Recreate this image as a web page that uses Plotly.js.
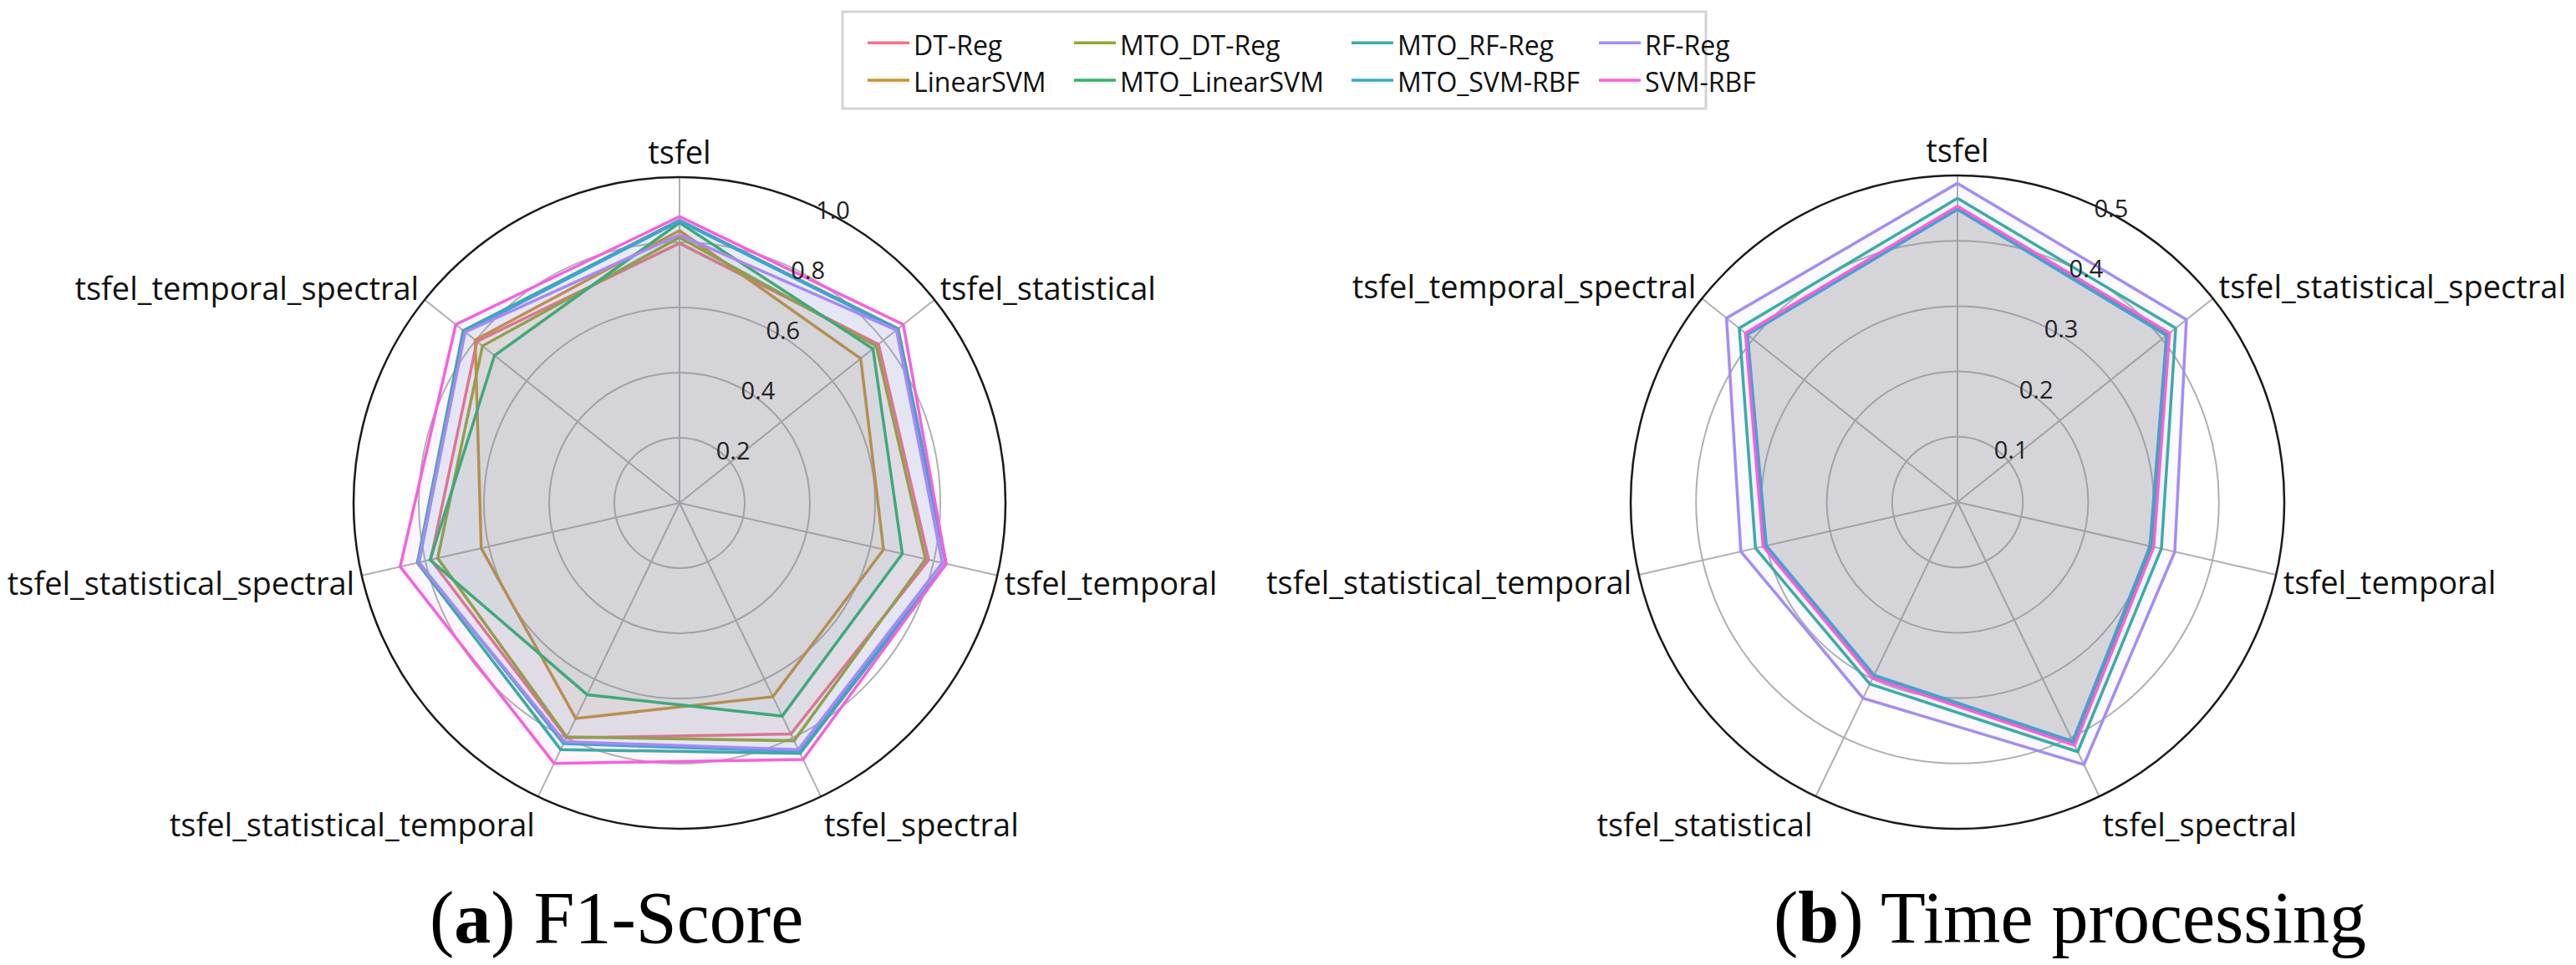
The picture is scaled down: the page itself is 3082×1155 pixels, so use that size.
<!DOCTYPE html>
<html>
<head>
<meta charset="utf-8">
<script src="https://cdn.plot.ly/plotly-3.0.1.min.js"></script>
<style>html,body{margin:0;padding:0;background:#fff;}#chart{width:3082px;height:1155px;}</style>
</head>
<body>
<div id="chart"></div>
<script>
// ---- Data ----
const models = ['DT-Reg', 'LinearSVM', 'MTO_DT-Reg', 'MTO_LinearSVM', 'MTO_RF-Reg', 'MTO_SVM-RBF', 'RF-Reg', 'SVM-RBF'];
const colors = ['#f77189', '#ce9032', '#97a431', '#32b166', '#36ada4', '#39a7d0', '#a48cf4', '#f561dd'];

const f1Categories = ['tsfel', 'tsfel_statistical', 'tsfel_temporal', 'tsfel_spectral',
  'tsfel_statistical_temporal', 'tsfel_statistical_spectral', 'tsfel_temporal_spectral'];
const f1_DT_Reg        = [0.797, 0.781, 0.784, 0.787, 0.800, 0.783, 0.795];
const f1_LinearSVM     = [0.836, 0.711, 0.642, 0.660, 0.734, 0.624, 0.802];
const f1_MTO_DT_Reg    = [0.815, 0.772, 0.774, 0.810, 0.797, 0.761, 0.773];
const f1_MTO_LinearSVM = [0.860, 0.759, 0.701, 0.726, 0.653, 0.785, 0.726];
const f1_MTO_RF_Reg    = [0.868, 0.858, 0.839, 0.853, 0.840, 0.825, 0.849];
const f1_MTO_SVM_RBF   = [0.865, 0.855, 0.838, 0.846, 0.820, 0.820, 0.843];
const f1_RF_Reg        = [0.823, 0.851, 0.827, 0.840, 0.813, 0.822, 0.841];
const f1_SVM_RBF       = [0.879, 0.878, 0.839, 0.874, 0.887, 0.879, 0.878];
const f1TickVals = [0.2, 0.4, 0.6, 0.8, 1.0];
const f1TickText = ['0.2', '0.4', '0.6', '0.8', '1.0'];

const timeCategories = ['tsfel', 'tsfel_statistical_spectral', 'tsfel_temporal', 'tsfel_spectral',
  'tsfel_statistical', 'tsfel_statistical_temporal', 'tsfel_temporal_spectral'];
const t_DT_Reg        = [0.451, 0.413, 0.306, 0.411, 0.297, 0.303, 0.413];
const t_LinearSVM     = [0.450, 0.412, 0.305, 0.410, 0.297, 0.302, 0.413];
const t_MTO_DT_Reg    = [0.449, 0.411, 0.304, 0.409, 0.296, 0.302, 0.412];
const t_MTO_LinearSVM = [0.450, 0.412, 0.305, 0.410, 0.296, 0.301, 0.412];
const t_MTO_RF_Reg    = [0.465, 0.427, 0.320, 0.424, 0.309, 0.317, 0.427];
const t_MTO_SVM_RBF   = [0.448, 0.409, 0.302, 0.406, 0.294, 0.300, 0.411];
const t_RF_Reg        = [0.488, 0.448, 0.341, 0.446, 0.333, 0.340, 0.452];
const t_SVM_RBF       = [0.453, 0.415, 0.308, 0.413, 0.299, 0.305, 0.415];
const timeTickVals = [0.1, 0.2, 0.3, 0.4, 0.5];
const timeTickText = ['0.1', '0.2', '0.3', '0.4', '0.5'];

const f1Series = [f1_DT_Reg, f1_LinearSVM, f1_MTO_DT_Reg, f1_MTO_LinearSVM, f1_MTO_RF_Reg, f1_MTO_SVM_RBF, f1_RF_Reg, f1_SVM_RBF];
const timeSeries = [t_DT_Reg, t_LinearSVM, t_MTO_DT_Reg, t_MTO_LinearSVM, t_MTO_RF_Reg, t_MTO_SVM_RBF, t_RF_Reg, t_SVM_RBF];
const captions = ['(<b>a</b>) F1-Score', '(<b>b</b>) Time processing'];

// ---- Helpers ----
function rgba(hex, a) {
  const n = parseInt(hex.slice(1), 16);
  return 'rgba(' + ((n >> 16) & 255) + ',' + ((n >> 8) & 255) + ',' + (n & 255) + ',' + a + ')';
}
const legendOf = ['legend', 'legend', 'legend2', 'legend2', 'legend3', 'legend3', 'legend4', 'legend4'];

const traces = [];
function addSeries(seriesList, cats, subplot, showLegend) {
  seriesList.forEach((vals, i) => {
    traces.push({
      type: 'scatterpolar',
      subplot: subplot,
      r: vals.concat([vals[0]]),
      theta: cats.concat([cats[0]]),
      mode: 'lines',
      name: models[i],
      line: {color: colors[i], width: 3.5},
      fill: 'toself',
      fillcolor: rgba(colors[i], 0.055),
      showlegend: showLegend,
      legend: legendOf[i],
      hoverinfo: 'skip'
    });
  });
}
addSeries(f1Series, f1Categories, 'polar', true);
addSeries(timeSeries, timeCategories, 'polar2', false);

const W = 3082, H = 1155;
function polarLayout(cx, cy, R, cats, range, tv, tt) {
  return {
    domain: {x: [(cx - R) / W, (cx + R) / W], y: [1 - (cy + R) / H, 1 - (cy - R) / H]},
    bgcolor: 'rgba(0,0,0,0)',
    angularaxis: {
      type: 'category', categoryarray: cats, rotation: 90, direction: 'clockwise',
      showline: true, linecolor: '#1a1a1a', linewidth: 2.5,
      gridcolor: '#b0b0b0', gridwidth: 2, ticks: '',
      tickfont: {family: 'Open Sans', size: 38, color: '#111'}
    },
    radialaxis: {
      range: range, tickvals: tv, ticktext: tt, angle: 67.5, tickangle: 67.5,
      showline: false, ticks: '', gridcolor: '#b0b0b0', gridwidth: 2,
      tickfont: {family: 'Liberation Sans Narrow, Open Sans', size: 29, color: '#222'}
    }
  };
}

const legendBase = {
  yanchor: 'top', xanchor: 'left', bgcolor: 'rgba(0,0,0,0)', borderwidth: 0,
  font: {family: 'Open Sans', size: 32, color: '#111'}, itemwidth: 50, tracegroupgap: 0,
  orientation: 'v'
};

const layout = {
  width: W, height: H,
  margin: {l: 0, r: 0, t: 0, b: 0},
  paper_bgcolor: '#fff',
  polar: polarLayout(813, 602, 390, f1Categories, [0, 1.0], f1TickVals, f1TickText),
  polar2: polarLayout(2342, 601, 391, timeCategories, [0, 0.5], timeTickVals, timeTickText),
  legend: Object.assign({}, legendBase, {x: 1033 / W, y: 1 - 26 / H}),
  legend2: Object.assign({}, legendBase, {x: 1280 / W, y: 1 - 26 / H}),
  legend3: Object.assign({}, legendBase, {x: 1612 / W, y: 1 - 26 / H}),
  legend4: Object.assign({}, legendBase, {x: 1908 / W, y: 1 - 26 / H}),
  shapes: [{
    type: 'rect', xref: 'paper', yref: 'paper',
    x0: 1008 / W, x1: 2041 / W, y0: 1 - 130 / H, y1: 1 - 14 / H,
    line: {color: '#d4d4d4', width: 3}, fillcolor: 'rgba(0,0,0,0)', layer: 'below'
  }],
  annotations: [
    {text: captions[0], xref: 'paper', yref: 'paper', x: 737 / W, y: 1 - 1098 / H,
     xanchor: 'center', yanchor: 'middle', showarrow: false,
     font: {family: 'Liberation Serif', size: 88, color: '#000'}},
    {text: captions[1], xref: 'paper', yref: 'paper', x: 2476 / W, y: 1 - 1098 / H,
     xanchor: 'center', yanchor: 'middle', showarrow: false,
     font: {family: 'Liberation Serif', size: 88, color: '#000'}}
  ]
};

Plotly.newPlot('chart', traces, layout, {staticPlot: true, displayModeBar: false});
</script>
</body>
</html>
